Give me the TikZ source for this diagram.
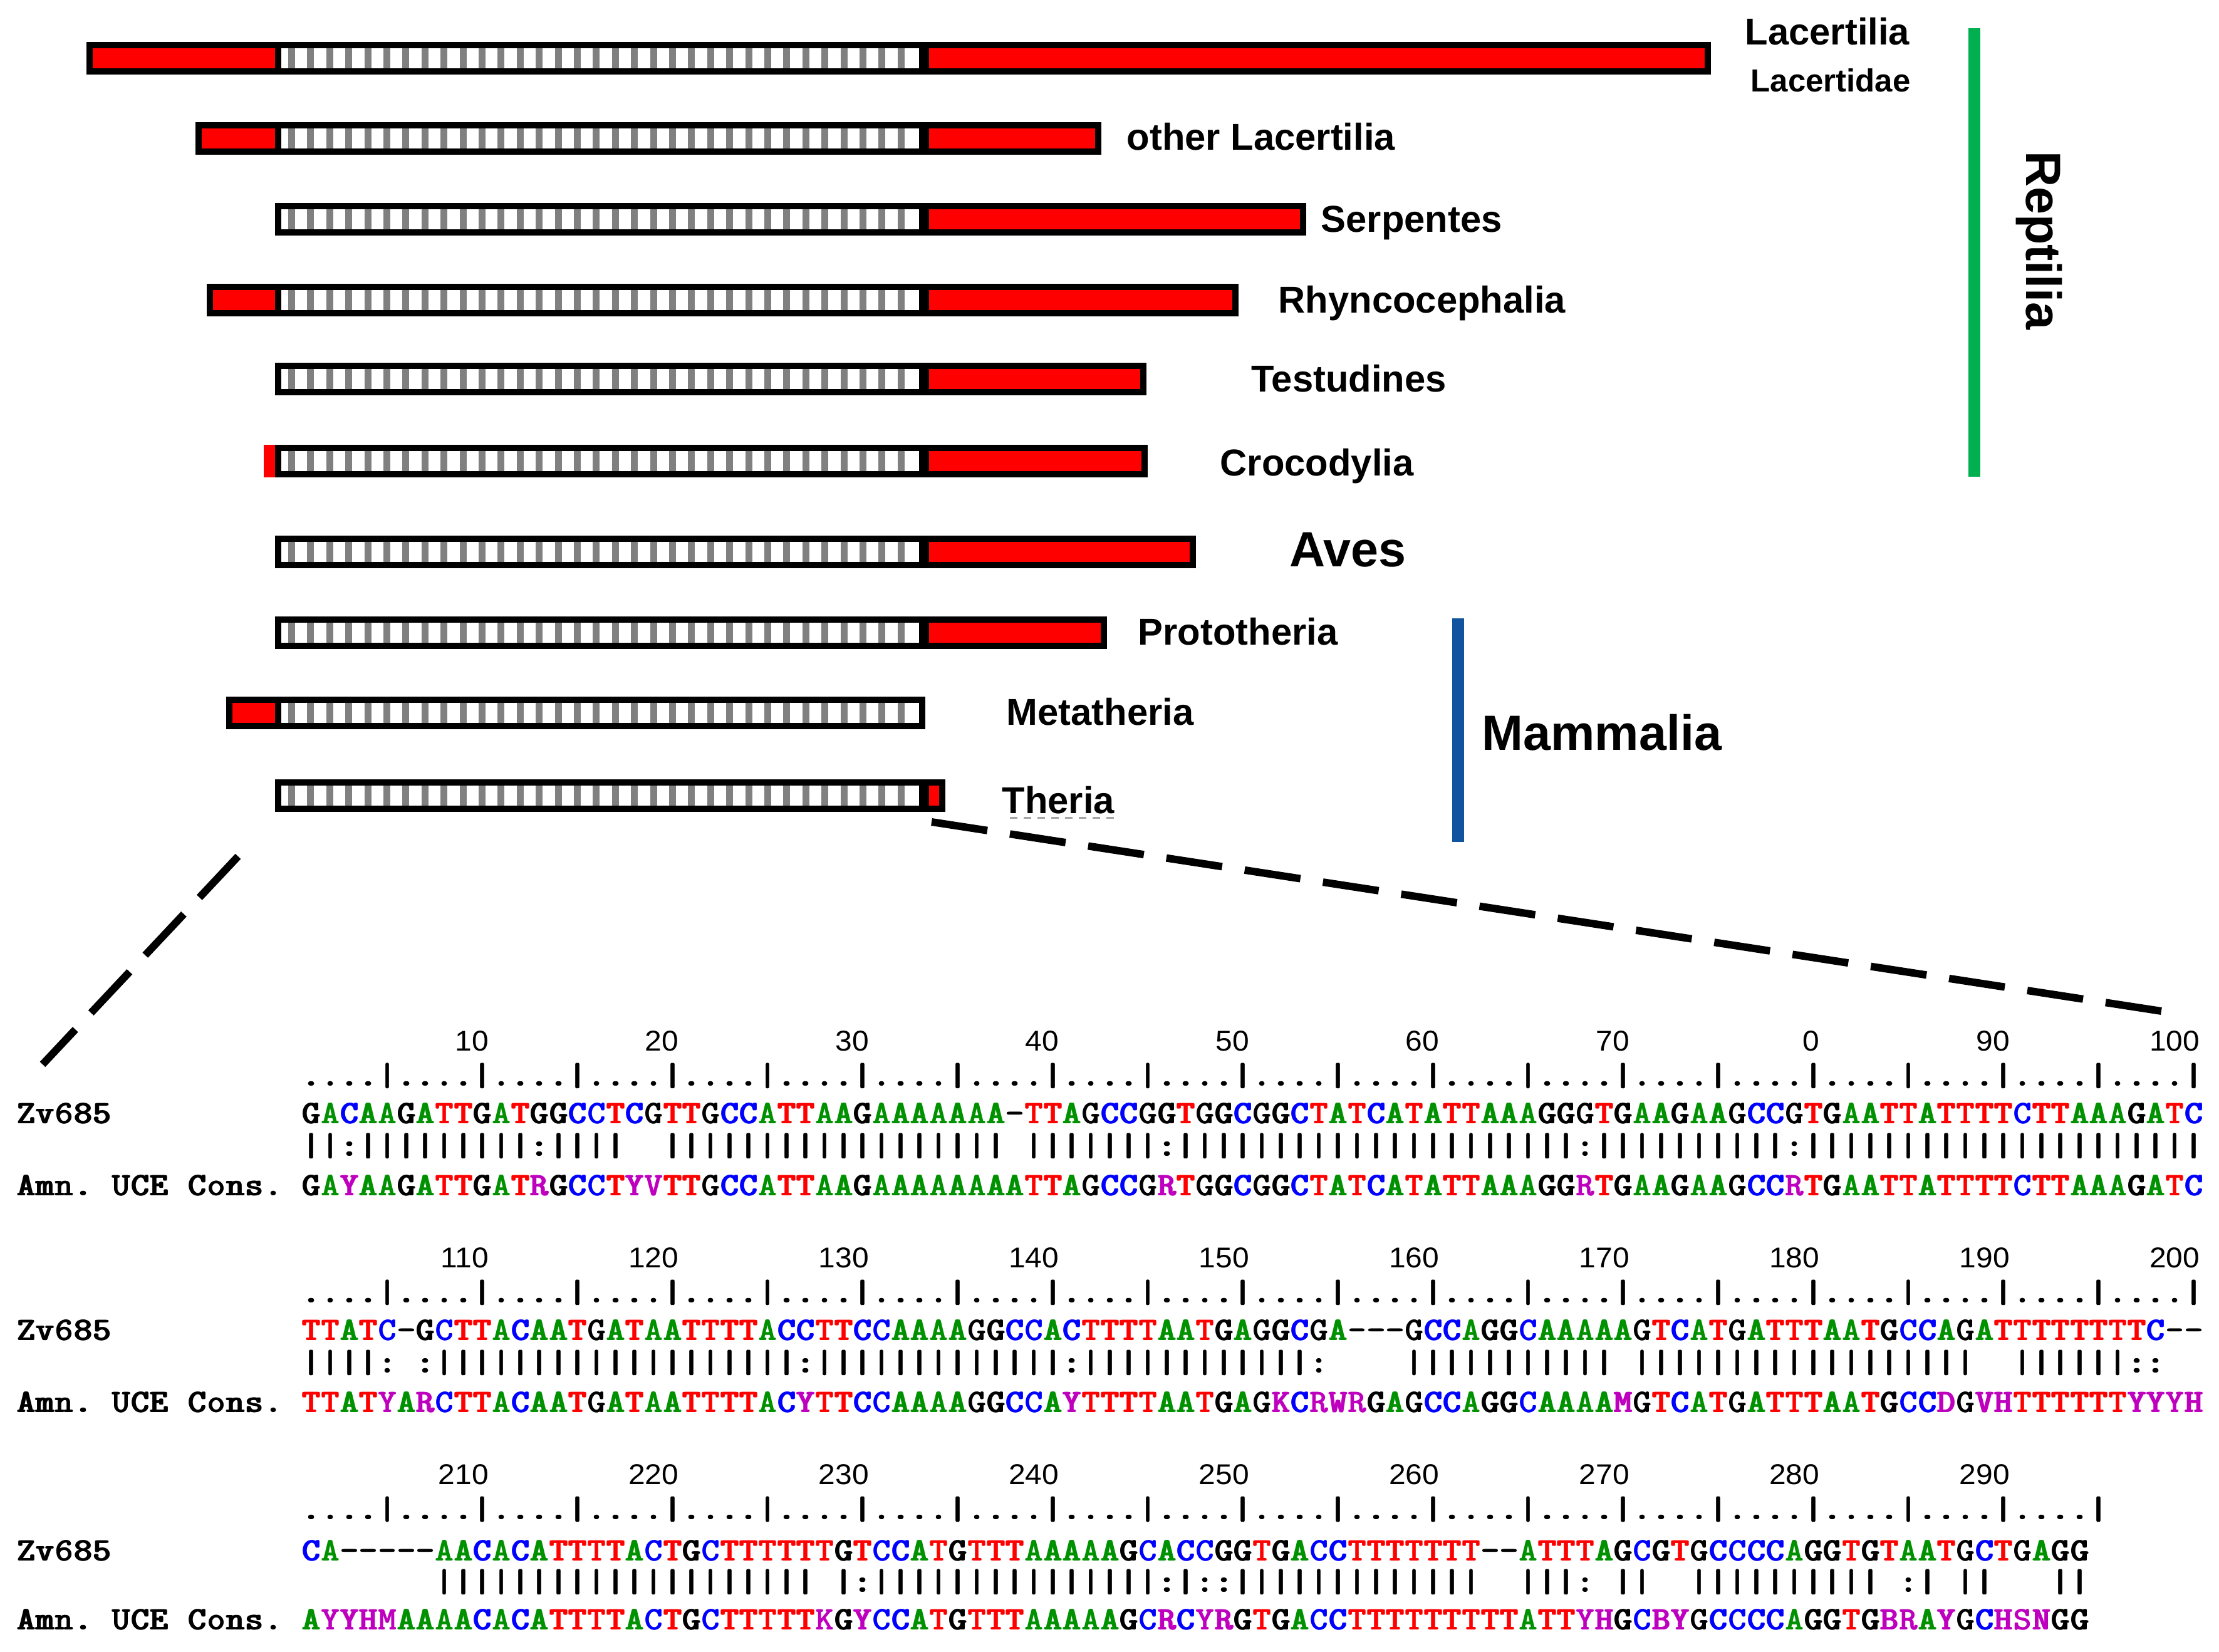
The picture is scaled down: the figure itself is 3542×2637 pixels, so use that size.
\documentclass[tikz,border=0pt]{standalone}
\usepackage{fontspec}
\setmainfont{Liberation Sans}
\definecolor{ntA}{RGB}{0,145,0}
\definecolor{ntC}{RGB}{0,0,255}
\definecolor{ntT}{RGB}{255,0,0}
\definecolor{ntX}{RGB}{190,0,190}
\definecolor{redbar}{RGB}{255,0,0}
\definecolor{stripe}{RGB}{128,128,128}
\definecolor{repgreen}{RGB}{0,176,80}
\definecolor{mamblue}{RGB}{16,84,160}
\newlength\pw
\setlength\pw{3.035mm}
\newcommand\wx[1]{\scalebox{1.05}[1]{#1}}
\newcommand\fb[1]{\wx{\rlap{#1}\kern0.45pt\relax #1}}
\newcommand\defsq[2]{\expandafter\def\csname sqc#1\endcsname{\textcolor{#2}{\fb{#1}}}}
\defsq{A}{ntA}\defsq{C}{ntC}\defsq{G}{black}\defsq{T}{ntT}
\defsq{R}{ntX}\defsq{Y}{ntX}\defsq{K}{ntX}\defsq{M}{ntX}\defsq{S}{ntX}\defsq{W}{ntX}
\defsq{B}{ntX}\defsq{D}{ntX}\defsq{H}{ntX}\defsq{V}{ntX}\defsq{N}{ntX}
\defsq{-}{black}\defsq{|}{black}\defsq{:}{black}\defsq{.}{black}
\def\sqend{}
\def\sqloop#1{\ifx#1\sqend\else\makebox[\pw]{\csname sqc#1\endcsname}\expandafter\sqloop\fi}
\newcommand\sq[1]{\sqloop#1\sqend}
\def\plloop#1{\ifx#1\sqend\else\makebox[\pw]{\ifx#1*\else\fb{#1}\fi}\expandafter\plloop\fi}
\newcommand\pl[1]{\plloop#1\sqend}
\newcommand\rp[1]{\foreach\i in {1,...,#1}{\sq{|}}}
\newcommand\ruler[1]{\foreach\i in {1,...,#1}{\sq{....|}}}
% bars
\newcommand\barouter[3]{\fill[black] (#1,#3-26) rectangle (#2,#3+26);}
\newcommand\redpart[3]{\fill[redbar] (#1,#3-16) rectangle (#2,#3+16);}
\newcommand\barhatch[1]{\fill[white] (449,#1-16) rectangle (1467,#1+16);
  \foreach \k in {0,...,32}{\fill[stripe] ({460+30.4*\k},#1-16) rectangle ({471+30.4*\k},#1+16);}}
\begin{document}
\begin{tikzpicture}[x=0.1mm,y=-0.1mm,
  toplab/.style={font=\fontsize{17}{20}\selectfont\bfseries, anchor=base west, inner sep=0},
  biglab/.style={font=\fontsize{22.5}{26}\selectfont\bfseries, anchor=base west, inner sep=0},
  smlab/.style={font=\fontsize{14.5}{17}\selectfont\bfseries, anchor=base west, inner sep=0},
  seqrow/.style={font=\fontsize{15}{17}\selectfont\ttfamily\bfseries, anchor=base west, inner sep=0},
  rulenum/.style={font=\fontsize{13}{15}\selectfont, anchor=base east, inner sep=0},
  zoomline/.style={line width=1.2mm, dash pattern=on 9mm off 3.64mm},
  underl/.style={gray!70, line width=0.3mm, dash pattern=on 1.2mm off 1mm}]
\useasboundingbox (0,0) rectangle (3542,2637);
\fill[white] (0,0) rectangle (3542,2637);

% ---------- bars ----------
% 1 Lacertilia / Lacertidae
\barouter{138}{2731}{93}\redpart{148}{439}{93}\barhatch{93}\redpart{1483}{2721}{93}
% 2 other Lacertilia
\barouter{312}{1758}{221}\redpart{322}{439}{221}\barhatch{221}\redpart{1483}{1748}{221}
% 3 Serpentes
\barouter{439}{2085}{350}\barhatch{350}\redpart{1483}{2075}{350}
% 4 Rhyncocephalia
\barouter{330}{1977}{479}\redpart{340}{439}{479}\barhatch{479}\redpart{1483}{1967}{479}
% 5 Testudines
\barouter{439}{1830}{605}\barhatch{605}\redpart{1483}{1820}{605}
% 6 Crocodylia
\fill[redbar] (421,736-26) rectangle (439,736+26);
\barouter{439}{1832}{736}\barhatch{736}\redpart{1483}{1822}{736}
% 7 Aves
\barouter{439}{1909}{881}\barhatch{881}\redpart{1483}{1899}{881}
% 8 Prototheria
\barouter{439}{1767}{1010}\barhatch{1010}\redpart{1483}{1757}{1010}
% 9 Metatheria
\barouter{361}{1477}{1138}\redpart{371}{439}{1138}\barhatch{1138}
% 10 Theria
\barouter{439}{1509}{1270}\barhatch{1270}\redpart{1483}{1499}{1270}

% ---------- labels ----------
\node[toplab] (lacer) at (2785,72) {Lacertilia};
\node[smlab] (lacid) at (2794,147) {Lacertidae};
\node[toplab] (olac) at (1798,240) {other Lacertilia};
\node[toplab] (serp) at (2108,371) {Serpentes};
\node[toplab] (rhyn) at (2040,500) {Rhyncocephalia};
\node[toplab] (test) at (1997,626) {Testudines};
\node[toplab] (croc) at (1947,760) {Crocodylia};
\node[biglab] (aves) at (2058,905) {Aves};
\node[toplab] (prot) at (1816,1029) {Prototheria};
\node[toplab] (meta) at (1606,1157) {Metatheria};
\node[toplab] (ther) at (1599,1298) {Theria};
\coordinate (ulA) at (1612,1305);
\coordinate (ulB) at (1784,1305);
\draw[underl] (ulA) -- (ulB);
\node[biglab] (mamm) at (2365,1197) {Mammalia};
\node[font=\fontsize{22.5}{26}\selectfont\bfseries, rotate=-90, inner sep=0] (rept) at (3255,384) {Reptilia};
\fill[repgreen] (3142,45) rectangle (3161,761);
\fill[mamblue] (2318,987) rectangle (2337,1344);

% ---------- zoom lines ----------
\coordinate (zl1) at (380,1367);
\coordinate (zl2) at (68,1699);
\coordinate (zr1) at (1487,1312);
\coordinate (zr2) at (3450,1614);
\draw[zoomline] (zl1) -- (zl2);
\draw[zoomline] (zr1) -- (zr2);

% ---------- block 1 ----------
\foreach \p/\t in {10/10,20/20,30/30,40/40,50/50,60/60,70/70,80/0,90/90,100/100}
  \node[rulenum] (na\p) at ({481+\p*30.35-4},1677) {\wx{\t}};
\node[seqrow] (ra) at (481.25,1733) {\ruler{20}};
\node[seqrow] (la1) at (26,1793) {\pl{Zv685}};
\node[seqrow] (sa1) at (481.25,1793) {\sq{GACAAGATTG}\sq{ATGGCCTCGT}\sq{TGCCATTAAG}\sq{AAAAAAA-TT}\sq{AGCCGGTGGC}\sq{GGCTATCATA}\sq{TTAAAGGGTG}\sq{AAGAAGCCGT}\sq{GAATTATTTT}\sq{CTTAAAGATC}};
\node[seqrow] (ma) at (481.25,1845) {\sq{||:}\rp{9}\sq{:||||**}\rp{18}\sq{*}\rp{7}\sq{:}\rp{21}\sq{:}\rp{10}\sq{:}\rp{21}};
\node[seqrow] (la2) at (26,1908) {\pl{Amn.*UCE*Cons.}};
\node[seqrow] (sa2) at (481.25,1908) {\sq{GAYAAGATTG}\sq{ATRGCCTYVT}\sq{TGCCATTAAG}\sq{AAAAAAAATT}\sq{AGCCGRTGGC}\sq{GGCTATCATA}\sq{TTAAAGGRTG}\sq{AAGAAGCCRT}\sq{GAATTATTTT}\sq{CTTAAAGATC}};

% ---------- block 2 ----------
\foreach \p/\t in {10/110,20/120,30/130,40/140,50/150,60/160,70/170,80/180,90/190,100/200}
  \node[rulenum] (nb\p) at ({481+\p*30.35-4},2023) {\wx{\t}};
\node[seqrow] (rb) at (481.25,2079) {\ruler{20}};
\node[seqrow] (lb1) at (26,2139) {\pl{Zv685}};
\node[seqrow] (sb1) at (481.25,2139) {\sq{TTATC-GCTT}\sq{ACAATGATAA}\sq{TTTTACCTTC}\sq{CAAAAGGCCA}\sq{CTTTTAATGA}\sq{GGCGA---GC}\sq{CAGGCAAAAA}\sq{GTCATGATTT}\sq{AATGCCAGAT}\sq{TTTTTTTC--}};
\node[seqrow] (mb) at (481.25,2191) {\sq{||||:*:}\rp{19}\sq{:}\rp{13}\sq{:}\rp{12}\sq{:****}\rp{11}\sq{*}\rp{18}\sq{**}\rp{6}\sq{::**}};
\node[seqrow] (lb2) at (26,2254) {\pl{Amn.*UCE*Cons.}};
\node[seqrow] (sb2) at (481.25,2254) {\sq{TTATYARCTT}\sq{ACAATGATAA}\sq{TTTTACYTTC}\sq{CAAAAGGCCA}\sq{YTTTTAATGA}\sq{GKCRWRGAGC}\sq{CAGGCAAAAM}\sq{GTCATGATTT}\sq{AATGCCDGVH}\sq{TTTTTTYYYH}};

% ---------- block 3 ----------
\foreach \p/\t in {10/210,20/220,30/230,40/240,50/250,60/260,70/270,80/280,90/290}
  \node[rulenum] (nc\p) at ({481+\p*30.35-4},2369) {\wx{\t}};
\node[seqrow] (rc) at (481.25,2425) {\ruler{19}};
\node[seqrow] (lc1) at (26,2491) {\pl{Zv685}};
\node[seqrow] (sc1) at (481.25,2491) {\sq{CA-----AAC}\sq{ACATTTTACT}\sq{GCTTTTTTGT}\sq{CCATGTTTAA}\sq{AAAGCACCGG}\sq{TGACCTTTTT}\sq{TT--ATTTAG}\sq{CGTGCCCCAG}\sq{GTGTAATGCT}\sq{GAGG}};
\node[seqrow] (mc) at (481.25,2541) {\sq{*******}\rp{20}\sq{*|:}\rp{15}\sq{:|::}\rp{13}\sq{**|||:*||**}\rp{10}\sq{*:|*||***||}};
\node[seqrow] (lc2) at (26,2601) {\pl{Amn.*UCE*Cons.}};
\node[seqrow] (sc2) at (481.25,2601) {\sq{AYYHMAAAAC}\sq{ACATTTTACT}\sq{GCTTTTTKGY}\sq{CCATGTTTAA}\sq{AAAGCRCYRG}\sq{TGACCTTTTT}\sq{TTTTATTYHG}\sq{CBYGCCCCAG}\sq{GTGBRAYGCH}\sq{SNGG}};
\end{tikzpicture}
\end{document}
